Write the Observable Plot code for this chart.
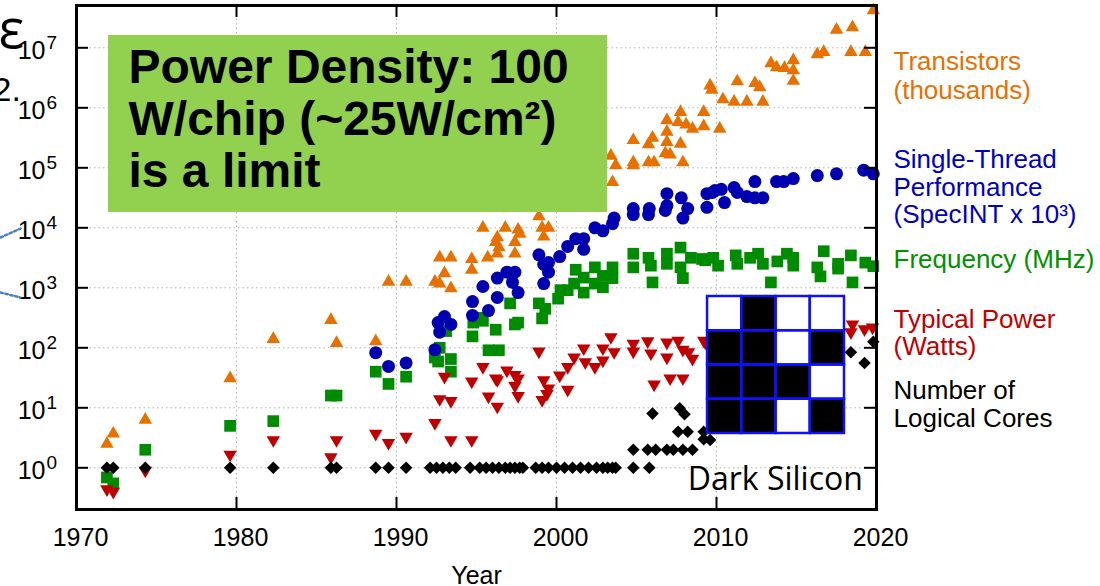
<!DOCTYPE html>
<html><head><meta charset="utf-8">
<script src="https://cdn.jsdelivr.net/npm/d3@7"></script>
<script src="https://cdn.jsdelivr.net/npm/@observablehq/plot@0.6"></script>
<style>html,body{margin:0;padding:0;background:#fff;} svg{display:block}</style>
</head><body><div id="chart"></div>
<script>
// ---------------- DATA ----------------
const xTicks = [1970, 1980, 1990, 2000, 2010, 2020];
const gridYears = [1980, 1990, 2000, 2010];
const yExponents = [0, 1, 2, 3, 4, 5, 6, 7];

// [year, value]
const transistors = [
  [1971.9,2.5],[1972.3,3.7],[1974.3,6.3],[1979.6,31],[1982.3,140],[1985.9,290],[1986.25,120],[1988.7,128],
  [1989.5,1260],[1990.6,1260],[1992.4,1260],[1992.7,1170],[1993.4,980],[1993.0,1740],[1994.7,2000],
  [1992.7,3200],[1993.4,3200],[1994.7,3000],[1995.7,3200],[1995.4,10000],[1996.8,10000],[1997.6,9300],
  [1997.7,7900],[1999.1,10000],[1999.5,10000],[1999.2,7100],[1996.3,6900],[1996.2,5800],[1997.4,5800],
  [1996.4,4700],[1996.3,3700],[1997.4,3700],[1998.9,15500],
  [2000.3,28000],[2001.0,42000],[2001.5,25000],[2002.0,45000],[2002.5,60000],
  [2003.5,57500],[2003.4,158000],[2003.7,110000],[2004.8,288000],[2004.8,123000],[2004.8,110000],
  [2005.75,245000],[2006.0,316000],[2005.75,123000],[2006.1,123000],[2006.9,617000],[2006.9,398000],
  [2006.9,269000],[2006.8,174000],[2007.1,166000],[2007.75,851000],[2007.75,251000],[2007.9,123000],
  [2007.6,575000],[2008.1,525000],[2008.5,447000],[2009.2,851000],[2009.2,490000],[2010.2,447000],
  [2009.6,2340000],[2009.7,2000000],[2010.4,1380000],[2011.1,1260000],[2011.3,2750000],[2011.9,1260000],
  [2012.4,2570000],[2012.7,2190000],[2012.9,1260000],[2013.4,5500000],[2013.75,4700000],[2014.25,4600000],
  [2014.8,6200000],[2014.8,4200000],[2014.8,2800000],[2016.3,7800000],[2016.7,8500000],[2017.5,20000000],
  [2018.5,22000000],[2018.4,8500000],[2019.3,8500000],[2019.8,42000000]
];

const singleThread = [
  [1988.7,83],[1989.5,49],[1990.6,56],[1992.4,93],[1992.7,182],[1992.6,263],[1993.0,331],[1993.4,245],
  [1994.75,347],[1995.75,417],[1994.75,589],[1995.4,1050],[1996.3,1450],[1996.3,692],[1996.9,1820],
  [1997.4,1820],[1997.25,1230],[1997.6,832],[1999.2,1175],[1998.9,3550],[1999.2,2450],[1999.5,1820],
  [1999.5,2630],[2000.2,3310],[2000.7,4900],[2001.2,6600],[2001.7,6600],[2001.7,4370],[2002.4,10000],
  [2002.9,8900],[2003.5,11700],[2003.6,14500],[2004.8,20900],[2004.8,16600],[2005.8,20900],[2005.75,16600],
  [2006.9,37000],[2006.9,23400],[2006.8,19500],[2007.8,31600],[2008.2,20900],[2007.9,14500],[2009.4,37000],
  [2009.4,21900],[2009.9,41700],[2009.75,38900],[2010.3,43700],[2010.5,26300],[2011.1,46800],[2011.3,38900],
  [2011.9,33100],[2012.4,58900],[2012.4,31600],[2012.9,31600],[2013.75,58900],[2014.2,58900],[2014.8,66100],
  [2016.3,74100],[2017.5,79400],[2019.2,91200],[2019.8,79400]
];

const frequency = [
  [1971.9,0.69],[1972.3,0.55],[1974.3,2],[1979.6,5],[1982.3,6],[1985.9,16],[1986.25,16],[1988.7,40],
  [1989.5,25],[1990.6,33],[1992.4,69],[1992.7,100],[1992.6,59],[1993.4,65],[1993.4,40],[1993.1,190],
  [1994.75,155],[1994.8,263],[1995.4,282],[1996.2,200],[1995.75,91],[1996.4,91],[1997.6,263],[1997.4,245],
  [1997.1,550],[1995.25,316],[1998.9,550],[1999.1,309],[1999.3,447],[2000.1,660],[2000.7,912],[2000.25,912],
  [2001.2,2000],[2001.1,1175],[2001.7,832],[2001.7,1480],[2002.4,2190],[2002.4,1175],[2002.9,1580],
  [2003.5,2190],[2003.5,1450],[2002.9,1020],[2004.8,3700],[2004.8,2190],[2005.75,3160],[2005.9,2340],
  [2006.0,1230],[2006.9,3700],[2006.9,2510],[2007.75,4680],[2007.9,1450],[2007.75,2190],[2008.4,3160],
  [2009.1,3020],[2009.8,3160],[2009.3,2880],[2010.1,2340],[2011.2,3470],[2011.3,2510],[2012.1,3160],
  [2012.6,3700],[2012.9,2510],[2013.4,1230],[2013.8,2750],[2014.4,3700],[2014.8,3160],[2014.8,2340],
  [2016.7,4070],[2016.3,2190],[2016.5,1550],[2017.6,2510],[2017.6,2090],[2018.4,3470],[2018.5,1230],
  [2019.3,2630],[2019.8,2290]
];

const power = [
  [1971.9,0.44],[1972.3,0.4],[1974.3,0.9],[1979.6,1.66],[1982.3,2.9],[1985.9,1.5],[1986.25,2.9],[1988.7,3.7],
  [1989.5,2.6],[1990.6,3.3],[1992.4,5.6],[1992.7,14],[1993.0,33],[1993.4,13],[1993.4,2.9],[1994.7,27.5],
  [1994.7,2.9],[1995.4,48],[1995.75,15.5],[1996.2,31],[1996.3,29],[1996.3,10.5],[1996.9,42],[1997.4,35.5],
  [1997.6,31],[1997.4,23.4],[1997.6,15.8],[1998.9,87],[1999.2,29],[1999.5,21],[1999.4,17],[1999.1,13.5],
  [2000.2,34.7],[2000.7,48],[2000.7,20],[2001.1,69],[2001.7,98],[2001.8,57.5],[2002.4,48],[2002.9,98],
  [2002.9,61.7],[2003.4,151],[2003.6,85],[2004.8,117],[2004.8,87],[2005.7,129],[2005.9,81],[2006.1,24.5],
  [2006.9,123],[2006.9,69],[2007.1,31],[2007.6,132],[2007.9,93],[2007.9,31],[2008.25,85],[2008.5,66],
  [2009.2,132],[2009.3,123],
  [2010.5,125],[2011.5,110],[2012.5,125],[2013.5,140],[2015.0,125],[2016.5,160],[2017.5,200],
  [2018.5,245],[2018.4,182],[2019.25,204],[2019.75,219]
];

const cores = [
  [1971.9,1],[1972.3,1],[1974.3,1],[1979.6,1],[1982.3,1],[1985.9,1],[1986.25,1],[1988.7,1],[1989.5,1],
  [1990.6,1],[1992.1,1],[1992.5,1],[1992.9,1],[1993.3,1],[1993.7,1],[1994.6,1],[1995.2,1],[1995.6,1],
  [1996.0,1],[1996.4,1],[1996.8,1],[1997.1,1],[1997.4,1],[1997.7,1],[1997.9,1],[1998.7,1],[1999.1,1],
  [1999.5,1],[2000.0,1],[2000.5,1],[2001.0,1],[2001.5,1],[2002.0,1],[2002.5,1],[2002.9,1],[2003.2,1],
  [2003.5,1],[2003.7,1],[2004.8,1],[2005.8,1],
  [2004.8,2],[2005.7,2],[2006.2,2],[2006.9,2],[2007.3,2],[2007.9,2],[2008.5,2],
  [2007.6,4],[2008.2,4],[2009.2,4],[2006.0,8],[2007.7,9.8],[2008.0,7.8],[2009.2,3],[2009.6,2.9],
  [2011.0,8],[2012.0,16],[2013.0,24],[2014.5,32],[2016.0,44],
  [2018.4,84],[2019.25,56],[2019.8,126]
];

// legend labels: [text, baseline value]
const legendTransistors = [["Transistors", 10**6.622], ["(thousands)", 10**6.155]];
const legendPerf = [["Single-Thread", 10**5.005], ["Performance", 10**4.538], ["(SpecINT x 10\u00b3)", 10**4.072]];
const legendFreq = [["Frequency (MHz)", 10**3.338]];
const legendPower = [["Typical Power", 10**2.338], ["(Watts)", 10**1.872]];
const legendCores = [["Number of", 10**1.155], ["Logical Cores", 10**0.672]];

// annotations
const powerBox = [{x1: 1972.0, x2: 2003.19, y1: 10**4.255, y2: 10**7.205}];
const powerText = [{x: 1973.25, y: 10**4.672, text: "Power Density: 100\nW/chip (~25W/cm\u00b2)\nis a limit"}];
const darkPattern = ["0100", "1101", "1110", "1101"];
const darkArea = {x0: 2009.44, x1: 2018.0, top: 2.855, bottom: 0.572};
const darkLabel = [{x: 2008.2, y: 10**-0.362, text: "Dark Silicon"}];
const leftArrows = [
  [[1965.25, 10**3.838], [1966.5, 10**3.988]],
  [[1965.25, 10**2.922], [1966.5, 10**2.838]]
];

// ---------------- STYLE ----------------
const C = {orange: "#e67000", blue: "#0000b0", green: "#008c00", red: "#c00000", black: "#000000"};
const Y_MIN = 10 ** -0.695, Y_MAX = 10 ** 7.705;
const TICK_Y = 10 ** (12 / 60), TICK_X = 12 / 16;

const triDown = {draw(ctx, size) {
  const y = Math.sqrt(size / (3 * Math.sqrt(3)));
  ctx.moveTo(0, 2 * y); ctx.lineTo(-Math.sqrt(3) * y, -y); ctx.lineTo(Math.sqrt(3) * y, -y); ctx.closePath();
}};
const diamond = {draw(ctx, size) {
  const h = Math.sqrt(size / 2);
  ctx.moveTo(0, -h); ctx.lineTo(h, 0); ctx.lineTo(0, h); ctx.lineTo(-h, 0); ctx.closePath();
}};

const dots = (data, symbol, r, fill) => Plot.dot(data, {x: d => d[0], y: d => d[1], symbol, r, fill, stroke: "none"});
const legend = (data, fill) => Plot.text(data, {y: d => d[1], text: d => d[0], frameAnchor: "right", dx: 17,
  textAnchor: "start", lineAnchor: "bottom", fill, fontSize: 26});

const cells = [];
const cw = (darkArea.x1 - darkArea.x0) / 4, ch = (darkArea.top - darkArea.bottom) / 4;
darkPattern.forEach((row, r) => row.split("").forEach((v, c) => cells.push({
  x1: darkArea.x0 + c * cw, x2: darkArea.x0 + (c + 1) * cw,
  y1: 10 ** (darkArea.top - r * ch), y2: 10 ** (darkArea.top - (r + 1) * ch), dark: v === "1"
})));

const chart = Plot.plot({
  width: 1100, height: 586,
  marginLeft: 76, marginRight: 224, marginTop: 5, marginBottom: 77,
  x: {domain: [1970, 2020], axis: null},
  y: {type: "log", domain: [Y_MIN, Y_MAX], axis: null},
  style: {fontFamily: "'Liberation Sans', Arial, Helvetica, sans-serif", background: "white", overflow: "visible"},
  marks: [
    // grid
    Plot.ruleX(gridYears, {x: d => d, stroke: "#b0b0b0", strokeDasharray: "1.5,3"}),
    Plot.ruleY(yExponents, {y: e => 10 ** e, stroke: "#b0b0b0", strokeDasharray: "1.5,3"}),
    // data
    dots(transistors, d3.symbolTriangle, 5, C.orange),
    dots(frequency, d3.symbolSquare, 6.6, C.green),
    dots(power, triDown, 5, C.red),
    dots(cores, diamond, 5, C.black),
    dots(singleThread, d3.symbolCircle, 6.5, C.blue),
    // inward ticks
    Plot.ruleX(gridYears, {x: d => d, y1: Y_MIN, y2: Y_MIN * TICK_Y, stroke: "black", strokeWidth: 2}),
    Plot.ruleX(gridYears, {x: d => d, y1: Y_MAX / TICK_Y, y2: Y_MAX, stroke: "black", strokeWidth: 2}),
    Plot.ruleY(yExponents, {y: e => 10 ** e, x1: 1970, x2: 1970 + TICK_X, stroke: "black", strokeWidth: 2}),
    Plot.ruleY(yExponents, {y: e => 10 ** e, x1: 2020 - TICK_X, x2: 2020, stroke: "black", strokeWidth: 2}),
    Plot.frame({stroke: "black", strokeWidth: 3}),
    // tick labels
    Plot.text(xTicks, {x: d => d, text: d => String(d), frameAnchor: "bottom", lineAnchor: "bottom", dy: 36, dx: 4, fontSize: 25, fill: "black"}),
    Plot.text(yExponents, {y: e => 10 ** e, text: () => "10", frameAnchor: "left", textAnchor: "end", dx: -31, dy: 3, fontSize: 25, fill: "black"}),
    Plot.text(yExponents, {y: e => 10 ** e, text: e => String(e), frameAnchor: "left", textAnchor: "start", dx: -30, dy: 1, lineAnchor: "bottom", fontSize: 19, fill: "black"}),
    Plot.text(["Year"], {text: d => d, frameAnchor: "bottom", lineAnchor: "bottom", dy: 74, fontSize: 25, fill: "black"}),
    // legend
    legend(legendTransistors, C.orange),
    legend(legendPerf, "#0000c0"),
    legend(legendFreq, "#009000"),
    legend(legendPower, C.red),
    legend(legendCores, C.black),
    // power density box
    Plot.rect(powerBox, {x1: "x1", x2: "x2", y1: "y1", y2: "y2", fill: "#92d050"}),
    Plot.text(powerText, {x: "x", y: "y", text: "text", textAnchor: "start", lineAnchor: "bottom", lineHeight: 1.085,
      fontSize: 48, fontWeight: "bold", fill: "black"}),
    // dark silicon grid
    Plot.rect(cells.filter(d => d.dark), {x1: "x1", x2: "x2", y1: "y1", y2: "y2", fill: "black"}),
    Plot.rect(cells.filter(d => !d.dark), {x1: "x1", x2: "x2", y1: "y1", y2: "y2", fill: "white"}),
    Plot.rect(cells, {x1: "x1", x2: "x2", y1: "y1", y2: "y2", fill: "none", stroke: "#1010ff", strokeWidth: 2.5}),
    Plot.text(darkLabel, {x: "x", y: "y", text: "text", textAnchor: "start", lineAnchor: "bottom", fontSize: 32,
      fontFamily: "'Open Sans', 'Noto Sans', sans-serif", fill: "black"}),
    // slide fragments at the left edge
    Plot.text(["\u03b5"], {text: d => d, frameAnchor: "top-left", dx: -78, dy: 42, textAnchor: "start", lineAnchor: "bottom",
      fontSize: 54, fontFamily: "'Open Sans', sans-serif", fill: "black"}),
    Plot.text(["2."], {text: d => d, frameAnchor: "top-left", dx: -84, dy: 95, textAnchor: "start", lineAnchor: "bottom",
      fontSize: 34, fill: "black"}),
    ...leftArrows.map(seg => Plot.line(seg, {x: d => d[0], y: d => d[1], stroke: "#4f81bd", strokeWidth: 2.5, strokeDasharray: "2.5,2.5"}))
  ]
});
document.getElementById("chart").appendChild(chart);
</script></body></html>
